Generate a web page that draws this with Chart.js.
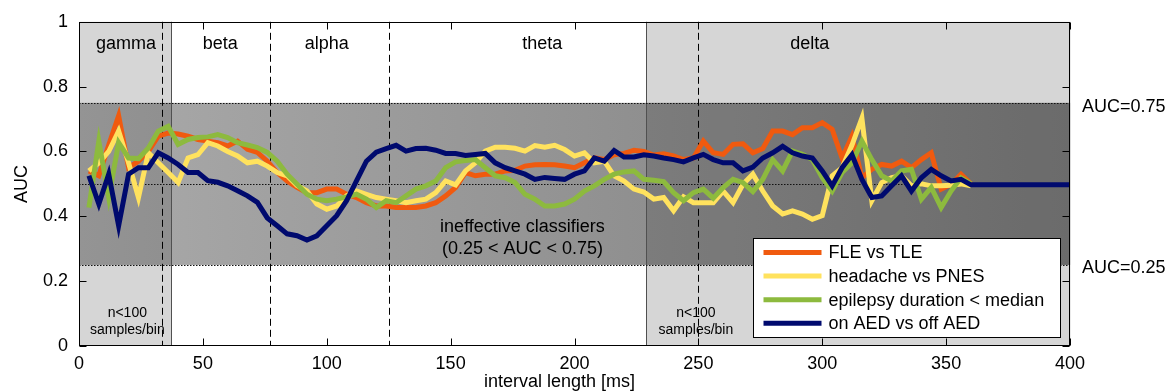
<!DOCTYPE html>
<html>
<head>
<meta charset="utf-8">
<script src="https://cdn.jsdelivr.net/npm/chart.js@4/dist/chart.umd.min.js"></script>
<style>
  body { margin: 0; background: #fff; }
  canvas { display: block; }
</style>
</head>
<body>
<canvas id="auc-chart" width="1173" height="392"></canvas>
<script>
///// data /////
const intervalMs = [
  4, 8, 12, 16, 20, 24, 28, 32, 36, 40,
  44, 48, 52, 56, 60, 64, 68, 72, 76, 80,
  84, 88, 92, 96, 100, 104, 108, 112, 116, 120,
  124, 128, 132, 136, 140, 144, 148, 152, 156, 160,
  164, 168, 172, 176, 180, 184, 188, 192, 196, 200,
  204, 208, 212, 216, 220, 224, 228, 232, 236, 240,
  244, 248, 252, 256, 260, 264, 268, 272, 276, 280,
  284, 288, 292, 296, 300, 304, 308, 312, 316, 320,
  324, 328, 332, 336, 340, 344, 348, 352, 356, 360,
  364, 368, 372, 376, 380, 384, 388, 392, 396, 400
];

const fleVsTle = [
  0.54, 0.525, 0.62, 0.71, 0.55, 0.57, 0.60, 0.647, 0.657, 0.654,
  0.647, 0.637, 0.632, 0.627, 0.617, 0.632, 0.607, 0.597, 0.57, 0.535,
  0.509, 0.489, 0.473, 0.473, 0.484, 0.484, 0.468, 0.458, 0.442, 0.432,
  0.432, 0.427, 0.427, 0.427, 0.432, 0.442, 0.463, 0.489, 0.535, 0.525,
  0.53, 0.53, 0.54, 0.542, 0.555, 0.559, 0.56, 0.559, 0.555, 0.55,
  0.565, 0.58, 0.575, 0.59, 0.594, 0.604, 0.60, 0.589, 0.593, 0.586,
  0.575, 0.58, 0.632, 0.596, 0.591, 0.622, 0.624, 0.596, 0.609, 0.663,
  0.663, 0.652, 0.673, 0.673, 0.689, 0.668, 0.58, 0.647, 0.519, 0.545,
  0.56, 0.555, 0.57, 0.55, 0.575, 0.596, 0.484, 0.499, 0.53, 0.50
];

const headacheVsPnes = [
  0.54, 0.565, 0.60, 0.663, 0.565, 0.458, 0.596, 0.565, 0.535, 0.504,
  0.58, 0.59, 0.627, 0.617, 0.60, 0.586, 0.565, 0.57, 0.555, 0.535,
  0.525, 0.495, 0.478, 0.438, 0.422, 0.432, 0.463, 0.478, 0.468, 0.458,
  0.453, 0.448, 0.442, 0.448, 0.453, 0.473, 0.509, 0.497, 0.54, 0.565,
  0.601, 0.613, 0.613, 0.61, 0.601, 0.618, 0.613, 0.619, 0.606, 0.586,
  0.596, 0.565, 0.57, 0.525, 0.509, 0.484, 0.475, 0.453, 0.458, 0.417,
  0.46, 0.442, 0.442, 0.442, 0.478, 0.442, 0.499, 0.53, 0.478, 0.432,
  0.407, 0.417, 0.407, 0.391, 0.402, 0.525, 0.55, 0.62, 0.703, 0.448,
  0.504, 0.519, 0.525, 0.494, 0.50, 0.494, 0.494, 0.496, 0.50, 0.494
];

const durationBelowMedian = [
  0.427, 0.632, 0.458, 0.627, 0.58, 0.578, 0.611, 0.663, 0.678, 0.622,
  0.637, 0.643, 0.645, 0.652, 0.643, 0.627, 0.62, 0.612, 0.597, 0.57,
  0.53, 0.499, 0.468, 0.453, 0.448, 0.453, 0.46, 0.468, 0.453, 0.427,
  0.448, 0.442, 0.463, 0.484, 0.494, 0.509, 0.55, 0.568, 0.572, 0.575,
  0.55, 0.525, 0.519, 0.504, 0.468, 0.453, 0.432, 0.432, 0.438, 0.453,
  0.478, 0.494, 0.514, 0.53, 0.537, 0.54, 0.514, 0.511, 0.507, 0.473,
  0.448, 0.473, 0.484, 0.456, 0.489, 0.514, 0.504, 0.476, 0.514, 0.575,
  0.54, 0.601, 0.591, 0.575, 0.519, 0.478, 0.535, 0.565, 0.632, 0.575,
  0.525, 0.509, 0.54, 0.545, 0.453, 0.489, 0.427, 0.478, 0.519, 0.50
];

const onVsOffAed = [
  0.525, 0.438, 0.53, 0.371, 0.53, 0.55, 0.55, 0.596, 0.58, 0.56,
  0.535, 0.535, 0.51, 0.505, 0.494, 0.479, 0.463, 0.443, 0.395, 0.371,
  0.346, 0.34, 0.327, 0.34, 0.371, 0.402, 0.448, 0.509, 0.57, 0.598,
  0.609, 0.619, 0.601, 0.609, 0.61, 0.604, 0.594, 0.594, 0.588, 0.591,
  0.594, 0.565, 0.55, 0.54, 0.53, 0.514, 0.52, 0.517, 0.514, 0.53,
  0.54, 0.58, 0.57, 0.603, 0.583, 0.583, 0.59, 0.586, 0.58, 0.575,
  0.568, 0.58, 0.591, 0.575, 0.565, 0.565, 0.54, 0.552, 0.58, 0.596,
  0.616, 0.596, 0.586, 0.58, 0.54, 0.494, 0.55, 0.59, 0.514, 0.458,
  0.463, 0.494, 0.525, 0.478, 0.519, 0.545, 0.525, 0.509, 0.514, 0.497,
  0.497, 0.497, 0.497, 0.497, 0.497, 0.497, 0.497, 0.497, 0.497, 0.497
];

const seriesLabels = ['FLE vs TLE', 'headache vs PNES', 'epilepsy duration < median', 'on AED vs off AED'];
const xTicks = [0, 50, 100, 150, 200, 250, 300, 350, 400];
const yTicks = [0, 0.2, 0.4, 0.6, 0.8, 1];

// frequency bands (ms), low-sample zones and the "ineffective" AUC band
const bandEdges = [33.3, 76.9, 125, 250];
const bandNames = ['gamma', 'beta', 'alpha', 'theta', 'delta'];
const bandNameX = [19, 57, 100, 187, 295];
const lowSampleZones = [[0, 37], [229, 400]];
const lowSampleLabelX = [19.5, 249];
const aucBand = [0.25, 0.75];

const FONT = '"Liberation Sans", Arial, Helvetica, sans-serif';
const toPoints = vals => vals.map((v, i) => ({ x: intervalMs[i], y: v }));

///// plugin: background, annotations, box, legend /////
const decorations = {
  id: 'decorations',
  beforeDatasetsDraw(chart) {
    const { ctx, chartArea: a, scales: { x, y } } = chart;
    const px = v => Math.round(x.getPixelForValue(v)) + 0.5;
    const py = v => Math.round(y.getPixelForValue(v)) + 0.5;
    ctx.save();

    ctx.fillStyle = '#fff';
    ctx.fillRect(a.left, a.top, a.width, a.height);
    ctx.fillStyle = '#d6d6d6';
    lowSampleZones.forEach(([x0, x1]) => ctx.fillRect(px(x0), a.top, px(x1) - px(x0), a.height));

    const yTop = y.getPixelForValue(aucBand[1]);
    const yBot = y.getPixelForValue(aucBand[0]);
    const grad = ctx.createLinearGradient(a.left, 0, a.right, 0);
    grad.addColorStop(0, '#aaaaaa');
    grad.addColorStop(1, '#7b7b7b');
    ctx.fillStyle = grad;
    ctx.fillRect(a.left, yTop, a.width, yBot - yTop);
    ctx.fillStyle = 'rgba(0,0,0,0.13)';
    lowSampleZones.forEach(([x0, x1]) => ctx.fillRect(px(x0), yTop, px(x1) - px(x0), yBot - yTop));

    // solid edges of low-sample zones
    ctx.strokeStyle = '#505050';
    ctx.lineWidth = 1;
    [37, 229].forEach(v => {
      ctx.beginPath(); ctx.moveTo(px(v), a.top); ctx.lineTo(px(v), a.bottom); ctx.stroke();
    });

    // dotted AUC lines
    ctx.strokeStyle = '#111';
    ctx.setLineDash([1.5, 1.5]);
    [0.25, 0.5, 0.75].forEach(v => {
      ctx.beginPath(); ctx.moveTo(a.left, py(v)); ctx.lineTo(a.right, py(v)); ctx.stroke();
    });

    // dashed band boundaries
    ctx.strokeStyle = '#000';
    ctx.setLineDash([7, 4]);
    bandEdges.forEach(v => {
      ctx.beginPath(); ctx.moveTo(px(v), a.top); ctx.lineTo(px(v), a.bottom); ctx.stroke();
    });
    ctx.setLineDash([]);

    // texts
    ctx.fillStyle = '#000';
    ctx.textAlign = 'center';
    ctx.textBaseline = 'middle';
    ctx.font = '18px ' + FONT;
    bandNames.forEach((n, i) => ctx.fillText(n, x.getPixelForValue(bandNameX[i]), y.getPixelForValue(0.93)));
    ctx.fillText('ineffective classifiers', x.getPixelForValue(179), y.getPixelForValue(0.368));
    ctx.fillText('(0.25 < AUC < 0.75)', x.getPixelForValue(179), y.getPixelForValue(0.298));
    ctx.font = '14px ' + FONT;
    lowSampleLabelX.forEach(v => {
      ctx.fillText('n<100', x.getPixelForValue(v), y.getPixelForValue(0.101));
      ctx.fillText('samples/bin', x.getPixelForValue(v), y.getPixelForValue(0.049));
    });
    ctx.restore();
  },
  afterDatasetsDraw(chart) {
    const { ctx, chartArea: a, scales: { x, y } } = chart;
    ctx.save();
    ctx.strokeStyle = '#000';
    ctx.lineWidth = 1;
    const L = Math.round(a.left) + 0.5, R = Math.round(a.right) - 0.5;
    const T = Math.round(a.top) + 0.5, B = Math.round(a.bottom) - 0.5;
    ctx.strokeRect(L, T, R - L, B - T);
    // inward ticks
    ctx.beginPath();
    xTicks.forEach(v => {
      const p = Math.round(x.getPixelForValue(v)) + 0.5;
      ctx.moveTo(p, B); ctx.lineTo(p, B - 7);
      ctx.moveTo(p, T); ctx.lineTo(p, T + 7);
    });
    yTicks.forEach(v => {
      const p = Math.round(y.getPixelForValue(v)) + 0.5;
      ctx.moveTo(L, p); ctx.lineTo(L + 7, p);
      ctx.moveTo(R, p); ctx.lineTo(R - 7, p);
    });
    ctx.stroke();

    // legend box
    const lw = 307, lh = 99;
    const lx = Math.round(a.right - 10 - lw) + 0.5;
    const ly = Math.round(a.bottom - 9 - lh) + 0.5;
    ctx.fillStyle = '#fff';
    ctx.fillRect(lx, ly, lw, lh);
    ctx.strokeRect(lx, ly, lw, lh);
    ctx.font = '18px ' + FONT;
    ctx.textAlign = 'left';
    ctx.textBaseline = 'middle';
    chart.data.datasets.forEach((ds, i) => {
      const rowY = ly + 14 + i * 23.6;
      ctx.strokeStyle = ds.borderColor;
      ctx.lineWidth = 5;
      ctx.beginPath(); ctx.moveTo(lx + 10, rowY); ctx.lineTo(lx + 68, rowY); ctx.stroke();
      ctx.fillStyle = '#000';
      ctx.fillText(ds.label, lx + 75, rowY + 1);
    });
    ctx.restore();
  },
  afterDraw(chart) {
    const { ctx, chartArea: a, scales: { y } } = chart;
    ctx.save();
    ctx.fillStyle = '#000';
    ctx.font = '18px ' + FONT;
    ctx.textAlign = 'left';
    ctx.textBaseline = 'middle';
    ctx.fillText('AUC=0.75', a.right + 12, y.getPixelForValue(0.75) + 4);
    ctx.fillText('AUC=0.25', a.right + 12, y.getPixelForValue(0.25) + 3);
    ctx.textAlign = 'center';
    ctx.fillText('interval length [ms]', a.left + (a.right - a.left) / 2 - 15, 382);
    ctx.restore();
  }
};

const lineStyle = color => ({
  borderColor: color,
  backgroundColor: color,
  borderWidth: 5,
  pointRadius: 0,
  fill: false,
  tension: 0
});

const config = {
  type: 'line',
  data: {
    datasets: [
      { label: seriesLabels[0], data: toPoints(fleVsTle), order: 4, ...lineStyle('#f05a0f') },
      { label: seriesLabels[1], data: toPoints(headacheVsPnes), order: 3, ...lineStyle('#ffe25e') },
      { label: seriesLabels[2], data: toPoints(durationBelowMedian), order: 2, ...lineStyle('#8dba3e') },
      { label: seriesLabels[3], data: toPoints(onVsOffAed), order: 1, ...lineStyle('#000a6e') }
    ]
  },
  options: {
    responsive: false,
    animation: false,
    devicePixelRatio: 1,
    layout: { padding: { top: 20, right: 103, bottom: 0, left: 0 } },
    plugins: { legend: { display: false }, tooltip: { enabled: false } },
    scales: {
      x: {
        type: 'linear', min: 0, max: 400,
        afterBuildTicks: s => { s.ticks = xTicks.map(v => ({ value: v })); },
        ticks: { color: '#000', font: { size: 18, family: FONT }, padding: 7, maxRotation: 0 },
        grid: { display: false, drawTicks: false },
        border: { display: false },
        afterFit: s => { s.height = 46; }
      },
      y: {
        min: 0, max: 1,
        afterBuildTicks: s => { s.ticks = yTicks.map(v => ({ value: v })); },
        ticks: {
          color: '#000', font: { size: 18, family: FONT }, padding: 11,
          callback: v => String(Number(v.toFixed(1)))
        },
        grid: { display: false, drawTicks: false },
        border: { display: false },
        title: { display: true, text: 'AUC', color: '#000', font: { size: 18, family: FONT }, padding: { top: 11, bottom: 0 } },
        afterFit: s => { s.width = 79; }
      }
    }
  },
  plugins: [decorations]
};

let aucChart = new Chart(document.getElementById('auc-chart'), config);
</script>
</body>
</html>
